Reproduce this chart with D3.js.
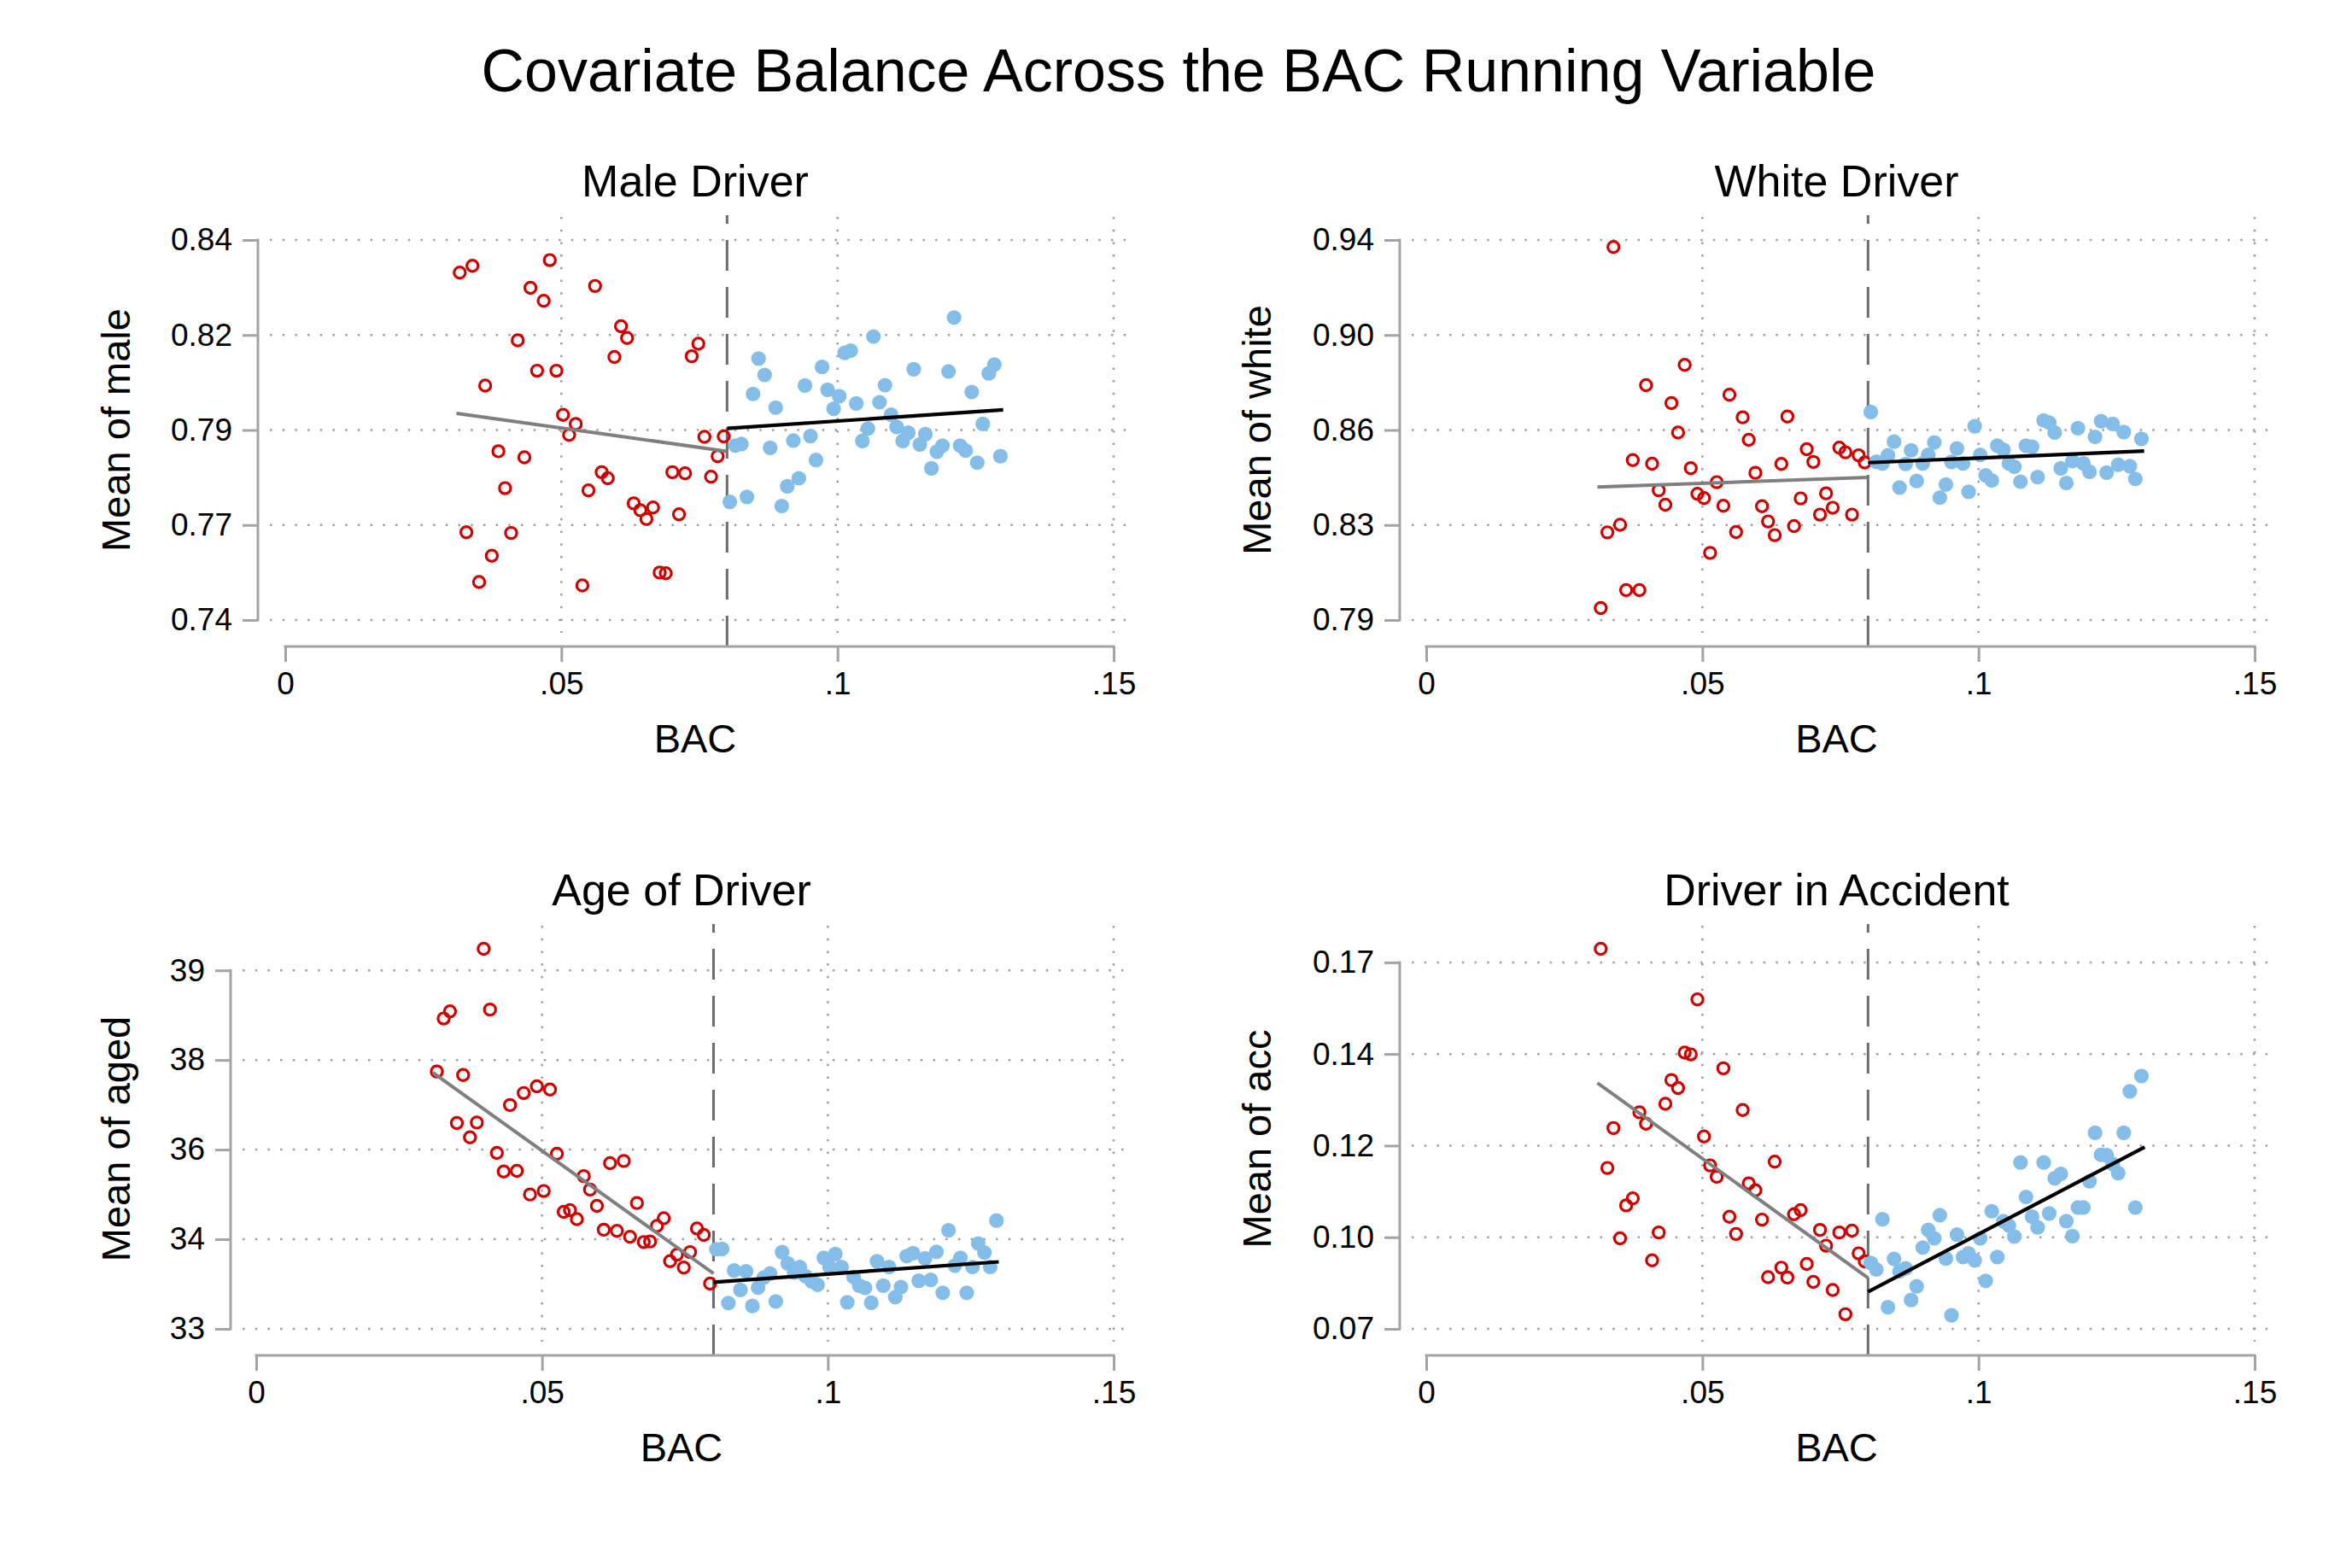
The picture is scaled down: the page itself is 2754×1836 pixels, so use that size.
<!DOCTYPE html>
<html>
<head>
<meta charset="utf-8">
<script src="https://cdn.jsdelivr.net/npm/d3@7"></script>
<style>
  html, body { margin: 0; padding: 0; background: #ffffff; }
  svg { display: block; }
  text { font-family: "Liberation Sans", Arial, Helvetica, sans-serif; fill: #000; }
</style>
</head>
<body>
<script>
// ---------------- DATA ----------------
const redBAC = [0.0316,0.0328,0.0339,0.0351,0.0362,0.0374,0.0386,0.0398,0.0409,0.0421,0.0433,0.0444,0.0456,0.0468,0.0479,0.0491,0.0503,0.0514,0.0526,0.0538,0.0549,0.0561,0.0573,0.0584,0.0596,0.0608,0.0619,0.0631,0.0643,0.0654,0.0666,0.0678,0.0689,0.0701,0.0713,0.0724,0.0736,0.0748,0.0759,0.0771,0.0783,0.0794];
const blueBAC = [0.0805,0.0815,0.0826,0.0836,0.0847,0.0857,0.0868,0.0878,0.0888,0.0899,0.0909,0.0920,0.0930,0.0941,0.0951,0.0961,0.0972,0.0982,0.0993,0.1003,0.1013,0.1024,0.1034,0.1045,0.1055,0.1065,0.1076,0.1086,0.1097,0.1107,0.1118,0.1128,0.1138,0.1149,0.1159,0.1170,0.1180,0.1190,0.1201,0.1211,0.1222,0.1232,0.1243,0.1253,0.1263,0.1274,0.1284,0.1295];

const maleLeft = [0.8314,0.7631,0.8332,0.7500,0.8017,0.7569,0.7844,0.7747,0.7629,0.8136,0.7828,0.8274,0.8056,0.8240,0.8347,0.8056,0.7940,0.7887,0.7916,0.7491,0.7741,0.8279,0.7789,0.7773,0.8092,0.8173,0.8142,0.7707,0.7689,0.7666,0.7696,0.7525,0.7523,0.7789,0.7678,0.7786,0.8094,0.8127,0.7882,0.7777,0.7831,0.7883];
const maleRight = [0.7711,0.7859,0.7863,0.7724,0.7995,0.8088,0.8045,0.7853,0.7959,0.7700,0.7752,0.7872,0.7773,0.8017,0.7884,0.7821,0.8066,0.8006,0.7956,0.7989,0.8103,0.8109,0.7970,0.7871,0.7904,0.8146,0.7973,0.8018,0.7940,0.7908,0.7871,0.7893,0.8060,0.7862,0.7889,0.7799,0.7843,0.7859,0.8054,0.8196,0.7859,0.7846,0.8000,0.7814,0.7916,0.8049,0.8072,0.7831];

const whiteLeft = [0.7947,0.8246,0.9372,0.8276,0.8018,0.8531,0.8018,0.8827,0.8517,0.8412,0.8355,0.8756,0.8640,0.8907,0.8499,0.8398,0.8381,0.8165,0.8444,0.8351,0.8789,0.8247,0.8700,0.8611,0.8481,0.8349,0.8289,0.8235,0.8516,0.8703,0.8271,0.8380,0.8574,0.8524,0.8316,0.8400,0.8343,0.8580,0.8562,0.8316,0.8550,0.8522];
const whiteRight = [0.8721,0.8525,0.8518,0.8550,0.8604,0.8423,0.8516,0.8570,0.8449,0.8518,0.8552,0.8601,0.8383,0.8435,0.8524,0.8577,0.8518,0.8406,0.8665,0.8552,0.8471,0.8451,0.8588,0.8572,0.8518,0.8505,0.8446,0.8588,0.8584,0.8464,0.8688,0.8679,0.8640,0.8499,0.8441,0.8527,0.8657,0.8518,0.8485,0.8623,0.8685,0.8482,0.8674,0.8513,0.8642,0.8507,0.8457,0.8615];

const agedLeft = [37.307,38.194,38.314,36.444,37.249,36.204,36.453,39.360,38.343,35.945,35.633,36.746,35.643,36.947,35.249,37.058,35.307,37.005,35.930,34.957,34.986,34.837,35.556,35.331,35.058,34.659,35.772,34.640,35.810,34.540,35.106,34.453,34.463,34.722,34.851,34.132,34.242,34.026,34.285,34.679,34.573,33.758];
const agedRight = [34.333,34.338,33.432,33.978,33.652,33.964,33.384,33.691,33.858,33.926,33.460,34.285,34.094,33.940,34.036,33.882,33.796,33.739,34.189,34.036,34.252,34.036,33.446,33.868,33.724,33.686,33.437,34.132,33.724,34.036,33.532,33.700,34.218,34.266,33.806,34.180,33.820,34.290,33.604,34.650,34.060,34.190,33.604,34.036,34.429,34.276,34.036,34.813];

const accLeft = [0.1737,0.1139,0.1248,0.0947,0.1037,0.1056,0.1291,0.1260,0.0887,0.0963,0.1314,0.1379,0.1357,0.1454,0.1449,0.1599,0.1225,0.1146,0.1115,0.1411,0.1006,0.0959,0.1297,0.1097,0.1078,0.0998,0.0841,0.1156,0.0867,0.0840,0.1013,0.1024,0.0877,0.0828,0.0970,0.0927,0.0806,0.0963,0.0740,0.0968,0.0906,0.0884];
const accRight = [0.0880,0.0862,0.0999,0.0759,0.0891,0.0857,0.0865,0.0779,0.0816,0.0922,0.0970,0.0947,0.1010,0.0892,0.0737,0.0957,0.0896,0.0906,0.0887,0.0947,0.0831,0.1021,0.0896,0.0994,0.0982,0.0952,0.1154,0.1060,0.1006,0.0977,0.1154,0.1015,0.1111,0.1123,0.0994,0.0953,0.1031,0.1031,0.1103,0.1235,0.1175,0.1174,0.1150,0.1125,0.1235,0.1348,0.1031,0.1390];

// fitted line endpoints [bac, value]
const maleFitLeft  = [[0.0310,0.7944],[0.08,0.7844]];
const maleFitRight = [[0.08,0.7904],[0.1300,0.7953]];
const whiteFitLeft  = [[0.0310,0.8425],[0.08,0.8463]];
const whiteFitRight = [[0.08,0.8521],[0.1300,0.8567]];
const agedFitLeft  = [[0.0309,37.288],[0.08,33.926]];
const agedFitRight = [[0.08,33.782],[0.1299,34.122]];
const accFitLeft  = [[0.0310,0.1371],[0.08,0.0839]];
const accFitRight = [[0.08,0.0801],[0.1301,0.1196]];

const cutoff = 0.08;
const xTicks = [0, 0.05, 0.1, 0.15];
const xTickLabels = ["0", ".05", ".1", ".15"];
const maleTicks = [0.74, 0.765, 0.79, 0.815, 0.84];
const maleTickLabels = ["0.74", "0.77", "0.79", "0.82", "0.84"];
const whiteTicks = [0.79, 0.8275, 0.865, 0.9025, 0.94];
const whiteTickLabels = ["0.79", "0.83", "0.86", "0.90", "0.94"];
const agedTicks = [33, 34.5, 36, 37.5, 39];
const agedTickLabels = ["33", "34", "36", "38", "39"];
const accTicks = [0.07, 0.095, 0.12, 0.145, 0.17];
const accTickLabels = ["0.07", "0.10", "0.12", "0.14", "0.17"];

const mainTitle = "Covariate Balance Across the BAC Running Variable";
const panelTitles = ["Male Driver", "White Driver", "Age of Driver", "Driver in Accident"];
const yTitles = ["Mean of male", "Mean of white", "Mean of aged", "Mean of acc"];
const xTitle = "BAC";

// ---------------- LAYOUT ----------------
const W = 2754, H = 1836;
const svg = d3.select("body").append("svg").attr("width", W).attr("height", H);
svg.append("rect").attr("width", W).attr("height", H).attr("fill", "#fff");

const C = {
  red: "#d10000", blue: "#84bde8", axis: "#a3a3a3", grid: "#9f9f9f",
  xline: "#6c6c6c", fitL: "#7f7f7f", fitR: "#000000"
};

const panels = [
  { left: maleLeft, right: maleRight, ticks: maleTicks, labels: maleTickLabels, fitL: maleFitLeft, fitR: maleFitRight,
    axisX: 302, x0: 334, x1: 1304, rightEdge: 1326, top: 252, inTop: 281, inBot: 726, bottom: 757, yTitleX: 152 },
  { left: whiteLeft, right: whiteRight, ticks: whiteTicks, labels: whiteTickLabels, fitL: whiteFitLeft, fitR: whiteFitRight,
    axisX: 1639, x0: 1670, x1: 2640, rightEdge: 2662, top: 252, inTop: 281, inBot: 726, bottom: 757, yTitleX: 1488 },
  { left: agedLeft, right: agedRight, ticks: agedTicks, labels: agedTickLabels, fitL: agedFitLeft, fitR: agedFitRight,
    axisX: 270, x0: 300, x1: 1304, rightEdge: 1326, top: 1082, inTop: 1111, inBot: 1556, bottom: 1587, yTitleX: 152 },
  { left: accLeft, right: accRight, ticks: accTicks, labels: accTickLabels, fitL: accFitLeft, fitR: accFitRight,
    axisX: 1639, x0: 1670, x1: 2640, rightEdge: 2662, top: 1082, inTop: 1111, inBot: 1556, bottom: 1587, yTitleX: 1488 }
];

svg.append("text")
  .attr("x", 1380).attr("y", 107)
  .attr("text-anchor", "middle")
  .attr("font-size", 70)
  .text(mainTitle);

panels.forEach((p, i) => {
  const g = svg.append("g");
  const x = d3.scaleLinear().domain(d3.extent(xTicks)).range([p.x0, p.x1]);
  const allY = p.ticks.concat(p.left, p.right);
  const y = d3.scaleLinear().domain(d3.extent(allY)).range([p.inBot, p.inTop]);

  // gridlines
  p.ticks.forEach(t => {
    g.append("line")
      .attr("x1", p.axisX + 14).attr("x2", p.rightEdge)
      .attr("y1", y(t)).attr("y2", y(t))
      .attr("stroke", C.grid).attr("stroke-width", 2.5)
      .attr("stroke-dasharray", "2.5 12.2");
  });
  xTicks.filter(t => t > xTicks[0]).forEach(t => {
    g.append("line")
      .attr("x1", x(t)).attr("x2", x(t))
      .attr("y1", p.top + 2).attr("y2", p.bottom - 16)
      .attr("stroke", C.grid).attr("stroke-width", 2.5)
      .attr("stroke-dasharray", "2.5 12.2");
  });

  // cutoff line
  g.append("line")
    .attr("x1", x(cutoff)).attr("x2", x(cutoff))
    .attr("y1", p.bottom).attr("y2", p.top)
    .attr("stroke", C.xline).attr("stroke-width", 3)
    .attr("stroke-dasharray", "36 19");

  // y axis
  const yAxis = d3.axisLeft(y).tickValues(p.ticks)
    .tickFormat((d, k) => p.labels[k]).tickSize(18).tickPadding(12);
  const ya = g.append("g").attr("transform", `translate(${p.axisX},0)`).call(yAxis);
  ya.select(".domain").remove();
  ya.selectAll(".tick line").attr("stroke", C.axis).attr("stroke-width", 3);
  ya.selectAll(".tick text").attr("font-size", 37).attr("font-family", "Liberation Sans, Arial, Helvetica, sans-serif").attr("fill", "#000");
  g.append("line")
    .attr("x1", p.axisX).attr("x2", p.axisX)
    .attr("y1", y(d3.max(p.ticks)) - 1.5).attr("y2", y(d3.min(p.ticks)) + 1.5)
    .attr("stroke", C.axis).attr("stroke-width", 3);

  // x axis
  const xAxis = d3.axisBottom(x).tickValues(xTicks)
    .tickFormat((d, k) => xTickLabels[k]).tickSize(18).tickPadding(12);
  const xa = g.append("g").attr("transform", `translate(0,${p.bottom})`).call(xAxis);
  xa.select(".domain").remove();
  xa.selectAll(".tick line").attr("stroke", C.axis).attr("stroke-width", 3);
  xa.selectAll(".tick text").attr("font-size", 37).attr("font-family", "Liberation Sans, Arial, Helvetica, sans-serif").attr("fill", "#000");
  g.append("line")
    .attr("x1", x(xTicks[0]) - 1.5).attr("x2", x(xTicks[xTicks.length - 1]) + 1.5)
    .attr("y1", p.bottom).attr("y2", p.bottom)
    .attr("stroke", C.axis).attr("stroke-width", 3);

  // scatter: left (hollow red), right (solid blue)
  g.append("g").selectAll("circle").data(p.left).join("circle")
    .attr("cx", (d, k) => x(redBAC[k])).attr("cy", d => y(d))
    .attr("r", 6.6).attr("fill", "none")
    .attr("stroke", C.red).attr("stroke-width", 3.2);
  g.append("g").selectAll("circle").data(p.right).join("circle")
    .attr("cx", (d, k) => x(blueBAC[k])).attr("cy", d => y(d))
    .attr("r", 8.6).attr("fill", C.blue);

  // fitted lines
  const line = d3.line().x(d => x(d[0])).y(d => y(d[1]));
  g.append("path").attr("d", line(p.fitL)).attr("fill", "none")
    .attr("stroke", C.fitL).attr("stroke-width", 4);
  g.append("path").attr("d", line(p.fitR)).attr("fill", "none")
    .attr("stroke", C.fitR).attr("stroke-width", 4.2);

  // titles
  g.append("text")
    .attr("x", (p.axisX + p.rightEdge) / 2).attr("y", p.top - 22)
    .attr("text-anchor", "middle").attr("font-size", 52)
    .text(panelTitles[i]);
  g.append("text")
    .attr("x", (p.x0 + p.x1) / 2 + ((p.axisX + p.rightEdge) / 2 - (p.x0 + p.x1) / 2)).attr("y", p.bottom + 124)
    .attr("text-anchor", "middle").attr("font-size", 47)
    .text(xTitle);
  g.append("text")
    .attr("transform", `translate(${p.yTitleX},${(p.inTop + p.inBot) / 2}) rotate(-90)`)
    .attr("text-anchor", "middle").attr("font-size", 47)
    .text(yTitles[i]);
});
</script>
</body>
</html>
